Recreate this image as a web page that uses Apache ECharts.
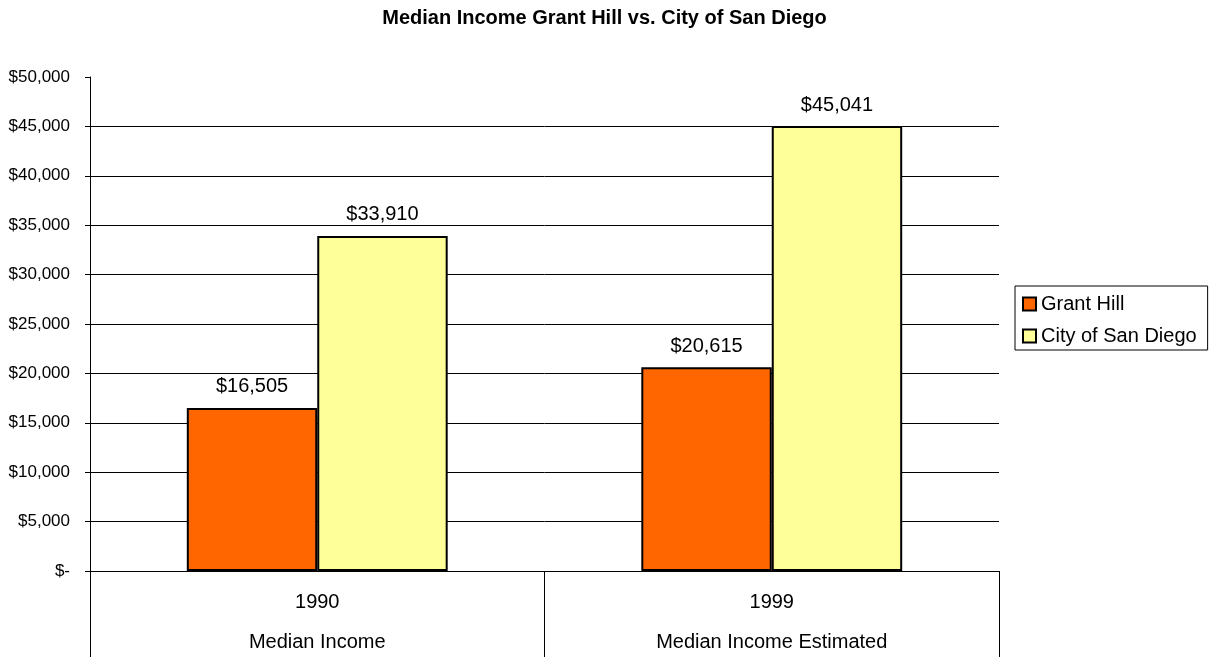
<!DOCTYPE html>
<html>
<head>
<meta charset="utf-8">
<script src="https://cdn.jsdelivr.net/npm/echarts@6/dist/echarts.min.js"></script>
<style>
html, body { margin: 0; padding: 0; background: #fff; }
#chart { width: 1209px; height: 657px; }
</style>
</head>
<body>
<div id="chart"></div>
<script>
const years = ['1990', '1999']
const measures = ['Median Income', 'Median Income Estimated']
const grantHill = [16505, 20615]
const sanDiego = [33910, 45041]
const seriesNames = ['Grant Hill', 'City of San Diego']

const fmtMoney = v => (v === 0 ? '$-' : '$' + v.toLocaleString('en-US'))

const barStyle = color => ({
  color: color,
  borderColor: '#000',
  borderWidth: 2
})

const labelStyle = {
  show: true,
  position: 'top',
  distance: 11,
  fontSize: 20,
  color: '#000',
  fontFamily: 'Liberation Sans, Arial, sans-serif',
  formatter: p => fmtMoney(p.value)
}

const chart = echarts.init(document.getElementById('chart'))
chart.setOption({
  animation: false,
  textStyle: { fontFamily: 'Liberation Sans, Arial, sans-serif' },
  title: {
    text: 'Median Income Grant Hill vs. City of San Diego',
    left: 'center',
    top: 3,
    textStyle: { fontSize: 20, fontWeight: 'bold', color: '#000' }
  },
  legend: {
    orient: 'vertical',
    left: 1015,
    top: 286,
    data: seriesNames,
    icon: 'rect',
    itemWidth: 13,
    itemHeight: 13,
    itemGap: 12,
    padding: [8, 11, 4, 7],
    borderColor: '#000',
    borderWidth: 1,
    textStyle: { fontSize: 20, color: '#000' }
  },
  grid: { left: 90, right: 210, top: 77, bottom: 86 },
  xAxis: {
    type: 'category',
    data: years.map((y, i) => y + '|' + measures[i]),
    axisLine: { lineStyle: { color: '#000', width: 1 } },
    axisTick: { show: true, length: 86, interval: 0, lineStyle: { color: '#000' } },
    axisLabel: {
      interval: 0,
      margin: 11,
      formatter: v => {
        const [y, m] = v.split('|')
        return '{y|' + y + '}\n{m|' + m + '}'
      },
      rich: {
        y: { fontSize: 20, color: '#000', lineHeight: 40 },
        m: { fontSize: 20, color: '#000', lineHeight: 40 }
      }
    }
  },
  yAxis: {
    type: 'value',
    min: 0,
    max: 50000,
    interval: 5000,
    axisLine: { show: true, lineStyle: { color: '#000', width: 1 } },
    axisTick: { show: true, length: 5, lineStyle: { color: '#000' } },
    axisLabel: { fontSize: 17, color: '#000', margin: 20, formatter: fmtMoney },
    splitLine: {
      show: true,
      lineStyle: {
        width: 1,
        color: ['#000', '#000', '#000', '#000', '#000', '#000', '#000', '#000', '#000', '#000', 'transparent']
      }
    }
  },
  series: [
    {
      name: seriesNames[0],
      type: 'bar',
      data: grantHill,
      barWidth: '28.7%',
      barGap: '0%',
      itemStyle: barStyle('#ff6600'),
      label: labelStyle
    },
    {
      name: seriesNames[1],
      type: 'bar',
      data: sanDiego,
      barWidth: '28.7%',
      barGap: '0%',
      itemStyle: barStyle('#ffff99'),
      label: labelStyle
    }
  ]
})
</script>
</body>
</html>
